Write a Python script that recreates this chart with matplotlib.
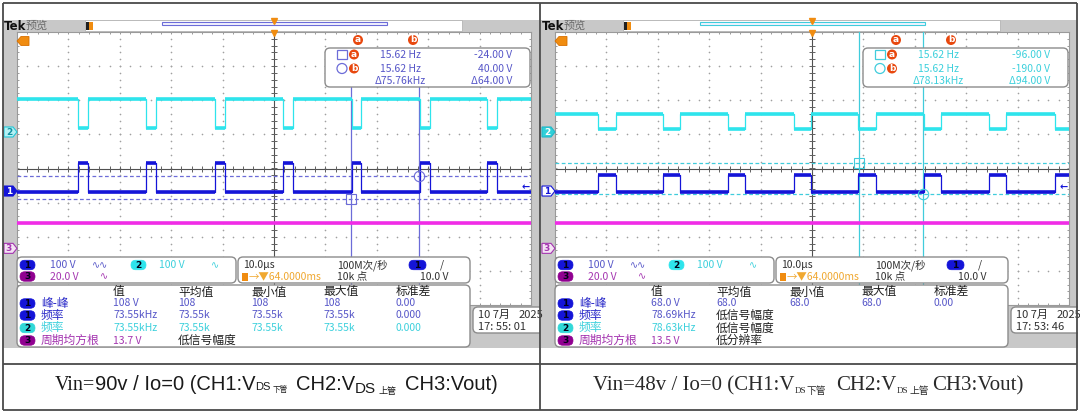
import numpy as np
import matplotlib
matplotlib.use("Agg")
import matplotlib.pyplot as plt
from matplotlib.patches import Rectangle, FancyBboxPatch, Polygon, Circle
from matplotlib.collections import LineCollection

plt.rcParams['font.family'] = ['Noto Sans CJK SC', 'DejaVu Sans']

W, H = 1080, 413

# ---------- values read off the two scope screens ----------
# horizontal: 10 us/div over 10 div, trigger in the centre -> -50..50 us
# vertical: 8 div, CH1/CH2 at 100 V/div, CH3 at 20 V/div
ch_scale = [100, 100, 20]
ch_ground_div = [-0.66, 1.07, -2.34]

# Vin = 90 V (left screen)
left_pulse_start = [-38.1, -24.9, -11.5, 1.7, 15.1, 28.4, 41.5]   # us
left_pulse_width = 1.9
left_ch1 = [-4, 82]      # low, high (V)
left_ch2 = [11, 96]      # low, high (V)
left_ch3 = 14.8
left_cursor_t = [15.05, 28.3]
left_cursor_div = [-0.88, -0.22]

# Vin = 48 V (right screen)
right_pulse_start = [-41.6, -29.0, -16.4, -3.5, 9.0, 21.7, 34.4, 47.2]
right_pulse_width = 3.4
right_ch1 = [-3, 46]
right_ch2 = [10, 54]
right_ch3 = 14.6
right_cursor_t = [9.07, 21.5]
right_cursor_div = [0.16, -0.75]

left_cursor_text = [["15.62 Hz", "-24.00 V"], ["15.62 Hz", "40.00 V"], ["Δ75.76kHz", "Δ64.00 V"]]
right_cursor_text = [["15.62 Hz", "-96.00 V"], ["15.62 Hz", "-190.0 V"], ["Δ78.13kHz", "Δ94.00 V"]]

ch_settings = ["100 V", "100 V", "20.0 V"]
timebase = ["10.0µs", "100M次/秒", "→▼64.0000ms", "10k 点", "10.0 V"]

meas_cols = ["值", "平均值", "最小值", "最大值", "标准差"]
meas_rows = [("1", "峰-峰"), ("1", "频率"), ("2", "频率"), ("3", "周期均方根")]
left_meas = [["108 V", "108", "108", "108", "0.00"],
             ["73.55kHz", "73.55k", "73.55k", "73.55k", "0.000"],
             ["73.55kHz", "73.55k", "73.55k", "73.55k", "0.000"],
             ["13.7 V", "低信号幅度", "", "", ""]]
right_meas = [["68.0 V", "68.0", "68.0", "68.0", "0.00"],
              ["78.69kHz", "低信号幅度", "", "", ""],
              ["78.63kHz", "低信号幅度", "", "", ""],
              ["13.5 V", "低分辨率", "", "", ""]]

left_date = ["10 7月", "2025", "17: 55: 01"]
right_date = ["10 7月", "2025", "17: 53: 46"]

GRAY = '#c8c8c8'
C1 = '#1414d8'
C2 = '#2ee4ec'
C3 = '#f02ce6'
C1TXT = '#5656c8'
C2TXT = '#3cd0dc'
C3TXT = '#a434b0'
ORANGE = '#f08c10'
RED = '#e8480e'

fig = plt.figure(figsize=(W / 100, H / 100), dpi=100)
fig.patch.set_facecolor('white')


def px_axes(z):
    a = fig.add_axes([0, 0, 1, 1], zorder=z)
    a.set_xlim(0, W)
    a.set_ylim(H, 0)
    a.axis('off')
    return a


bg = px_axes(0)
ov = px_axes(3)


def to_div(v, ch):
    return ch_ground_div[ch] + v / ch_scale[ch]


def pulse_train(starts, width, base, top):
    t, v = [-50], [base]
    for s in starts:
        e = s + width
        if e >= 50:
            t += [s, s, 50]
            v += [base, top, top]
            return t, v
        t += [s, s, e, e]
        v += [base, top, top, base]
    t.append(50)
    v.append(base)
    return t, v


def draw_trace(ax, t, v, color):
    ax.plot(t, v, color=color, lw=0.9, zorder=4)
    segs = [[(t[i], v[i]), (t[i + 1], v[i + 1])] for i in range(len(t) - 1) if v[i] == v[i + 1]]
    ax.add_collection(LineCollection(segs, colors=color, linewidths=2.6, zorder=4))


def scope(x0, x1, starts, width, ch1, ch2, ch3, cur_t, cur_div, cur_color, cur_top):
    y0, y1 = 32, 305
    ax = fig.add_axes([x0 / W, 1 - y1 / H, (x1 - x0) / W, (y1 - y0) / H], zorder=1)
    ax.set_xlim(-50, 50)
    ax.set_ylim(-4, 4)
    ax.set_xticks([])
    ax.set_yticks([])
    for s in ax.spines.values():
        s.set_color('#9a9a9a')
        s.set_linewidth(0.8)
    minor_x = np.arange(-50, 50.01, 2)
    minor_y = np.arange(-4, 4.01, 0.2)
    for gx in range(-40, 41, 10):
        if gx != 0:
            ax.scatter(np.full(minor_y.size, gx), minor_y, s=1.4, color='#a0a0a0', lw=0, zorder=1)
    for gy in range(-3, 4):
        if gy != 0:
            ax.scatter(minor_x, np.full(minor_x.size, gy), s=1.4, color='#a0a0a0', lw=0, zorder=1)
    ax.axhline(0, color='#505050', lw=0.8, zorder=2)
    ax.axvline(0, color='#505050', lw=0.8, zorder=2)
    ax.plot(minor_x, np.zeros(minor_x.size), ls='none', marker='|', ms=4, mew=0.7, color='#606060', zorder=2)
    ax.plot(np.zeros(minor_y.size), minor_y, ls='none', marker='_', ms=4, mew=0.7, color='#606060', zorder=2)
    for edge in (-4, 4):
        ax.plot(minor_x, np.full(minor_x.size, edge), ls='none', marker='|', ms=3, mew=0.6,
                color='#8a8a8a', clip_on=True, zorder=2)
    for edge in (-50, 50):
        ax.plot(np.full(minor_y.size, edge), minor_y, ls='none', marker='_', ms=3, mew=0.6,
                color='#8a8a8a', clip_on=True, zorder=2)

    # cursors
    for ct in cur_t:
        ax.plot([ct, ct], [-4, cur_top], color=cur_color, lw=0.9, zorder=3)
    for cd in cur_div:
        ax.axhline(cd, color=cur_color, lw=0.9, ls=(0, (3, 2)), zorder=3)
    ax.plot(cur_t[0], cur_div[0], marker='s', ms=6.5, mfc='none', mec=cur_color, mew=0.8, zorder=5)
    ax.plot(cur_t[1], cur_div[1], marker='o', ms=7.5, mfc='none', mec=cur_color, mew=0.8, zorder=5)

    # traces
    t, v = pulse_train(starts, width, to_div(ch2[1], 1), to_div(ch2[0], 1))
    draw_trace(ax, t, v, C2)
    t, v = pulse_train(starts, width, to_div(ch1[0], 0), to_div(ch1[1], 0))
    draw_trace(ax, t, v, C1)
    draw_trace(ax, [-50, 50], [to_div(ch3, 2)] * 2, C3)
    return ax


def div_to_py(d):
    return 168.5 - d * 34.125


def pill(x, y, label, fc, w=15, h=9.5):
    ov.add_patch(FancyBboxPatch((x, y - h / 2), w, h, boxstyle="round,pad=0,rounding_size=4.7",
                                fc=fc, ec=fc, lw=0.5, zorder=6))
    ov.text(x + w / 2, y + 0.3, label, ha='center', va='center', fontsize=6.5, color='#000018',
            fontweight='bold', family='DejaVu Sans', zorder=7)


def rbox(x0, y0, x1, y1, r=5):
    ov.add_patch(FancyBboxPatch((x0, y0), x1 - x0, y1 - y0, boxstyle="round,pad=0,rounding_size=%g" % r,
                                fc='white', ec='#8c8c8c', lw=1.0, zorder=5))


def ch_marker(x, y, label, fc, ec, tc):
    pts = [(x, y - 5), (x + 9, y - 5), (x + 13, y), (x + 9, y + 5), (x, y + 5)]
    ov.add_patch(Polygon(pts, closed=True, fc=fc, ec=ec, lw=0.8, zorder=6))
    ov.text(x + 5, y + 0.3, label, ha='center', va='center', fontsize=6.5, color=tc,
            family='DejaVu Sans', fontweight='bold', zorder=7)


def txt(x, y, s, color='#202020', size=7.5, ha='left', **kw):
    return ov.text(x, y, s, ha=ha, va='center', fontsize=size, color=color, zorder=7, **kw)


def panel(ox, starts, width, ch1, ch2, ch3, cur_t, cur_div, cur_color, cur_text, cur_txt_color,
          full_cursor, meas, date, m1_style, m2_style):
    # scope bezel
    bg.add_patch(Rectangle((ox + 3, 20), 537, 328, fc=GRAY, ec='none'))
    bg.add_patch(Rectangle((ox + 85, 20), 377, 11, fc='white', ec='#b4b4b4', lw=0.6))
    bg.add_patch(Rectangle((ox + 162, 22), 225, 3.2, fc='#f4f4ff', ec=cur_color, lw=0.8))
    ov.text(ox + 4, 26, "Tek", fontsize=8.5, fontweight='bold', family='DejaVu Sans', va='center', color='#101010')
    ov.text(ox + 26, 26, "预览", fontsize=8, va='center', color='#6a6a6a')
    ov.add_patch(Rectangle((ox + 86, 22), 7, 8, fc=ORANGE, ec='none', zorder=6))
    ov.add_patch(Rectangle((ox + 86, 22), 2.5, 8, fc='#202020', ec='none', zorder=6))
    ov.plot(ox + 274, 21, marker='v', ms=4, color=ORANGE, zorder=6)
    ov.plot(ox + 274, 33, marker='v', ms=5, color=ORANGE, zorder=6)
    ov.add_patch(Polygon([(ox + 17, 41), (ox + 21, 36.5), (ox + 29, 36.5), (ox + 29, 45.5), (ox + 21, 45.5)],
                         closed=True, fc=ORANGE, ec='#d87000', lw=0.6, zorder=6))

    top = 2.38 if not full_cursor else 4
    scope(ox + 17, ox + 531, starts, width, ch1, ch2, ch3, cur_t, cur_div, cur_color, top)

    # ground markers and trigger level arrow
    ch_marker(ox + 4, div_to_py(ch_ground_div[0]), "1", *m1_style)
    ch_marker(ox + 4, div_to_py(ch_ground_div[1]), "2", *m2_style)
    ch_marker(ox + 4, div_to_py(ch_ground_div[2]), "3", '#f4e4f4', C3TXT, C3TXT)
    txt(ox + 526, 187, "←", color=C1, size=7, ha='center', family='DejaVu Sans', fontweight='bold')

    # cursor readout
    rbox(ox + 325, 48, ox + 530, 87)
    for lab, x in zip("ab", [ox + 358, ox + 413]):
        ov.add_patch(Circle((x, 40), 5, fc=RED, ec='none', zorder=6))
        txt(x, 40, lab, color='white', size=6.5, ha='center', fontweight='bold', family='DejaVu Sans')
    ov.add_patch(Rectangle((ox + 337, 50), 10, 9, fc='none', ec=cur_color, lw=0.9, zorder=6))
    ov.add_patch(Circle((ox + 342, 68.5), 5, fc='none', ec=cur_color, lw=0.9, zorder=6))
    for lab, y in zip("ab", [54.5, 68.5]):
        ov.add_patch(Circle((ox + 354, y), 5, fc=RED, ec='none', zorder=6))
        txt(ox + 354, y, lab, color='white', size=6.5, ha='center', fontweight='bold', family='DejaVu Sans')
    for row, y in zip(cur_text, [54.5, 68.5, 81]):
        txt(ox + 400, y, row[0], color=cur_txt_color, size=7.5, ha='center')
        txt(ox + 512, y, row[1], color=cur_txt_color, size=7.5, ha='right')

    # vertical settings box
    rbox(ox + 17, 257, ox + 236, 283)
    pill(ox + 20, 265, "1", C1)
    txt(ox + 50, 265, ch_settings[0], C1TXT, 7.5)
    txt(ox + 92, 265, "∿∿", C1TXT, 7)
    pill(ox + 131, 265, "2", C2)
    txt(ox + 159, 265, ch_settings[1], C2TXT, 7.5)
    txt(ox + 211, 265, "∿", C2TXT, 7)
    pill(ox + 20, 276.5, "3", '#900090')
    txt(ox + 50, 276.5, ch_settings[2], C3TXT, 7.5)
    txt(ox + 100, 276.5, "∿", C3TXT, 7)

    # horizontal / trigger box
    rbox(ox + 238, 257, ox + 470, 283)
    txt(ox + 243, 265, timebase[0], '#303030', 7.5)
    txt(ox + 337, 265, timebase[1], '#303030', 7.5)
    pill(ox + 409, 265, "1", C1, w=17)
    txt(ox + 440, 265, "/", '#303030', 7.5)
    ov.add_patch(Rectangle((ox + 242, 272.5), 6, 8, fc=ORANGE, ec='none', zorder=6))
    txt(ox + 249, 276.5, timebase[2], '#f0a830', 7.5)
    txt(ox + 337, 276.5, timebase[3], '#303030', 7.5)
    txt(ox + 420, 276.5, timebase[4], '#303030', 7.5)

    # measurement table
    rbox(ox + 17, 285, ox + 470, 347)
    col_x = [113, 178, 251, 323, 396]
    for s, x in zip(meas_cols, col_x):
        txt(ox + x, 292, s, '#202020', 8.5)
    pill_fc = {"1": C1, "2": '#30d8d8', "3": '#900090'}
    lab_c = {"1": '#2a2ac8', "2": C2TXT, "3": C3TXT}
    val_c = {"1": C1TXT, "2": C2TXT, "3": C3TXT}
    for (ch, name), vals, y in zip(meas_rows, meas, [303.5, 315.5, 328, 340.5]):
        pill(ox + 20, y, ch, pill_fc[ch])
        txt(ox + 41, y, name, lab_c[ch], 8.5)
        for s, x in zip(vals, col_x):
            if s:
                c = '#202020' if not s[0].isascii() else val_c[ch]
                txt(ox + x, y, s, c, 8.5 if c == '#202020' else 7.5)

    # date box, cut by the screen edge
    rbox(ox + 473, 307, ox + 560, 333)
    clip = Rectangle((ox + 3, 0), 537, H, transform=ov.transData)
    ov.patches[-1].set_clip_path(clip)
    for s, x, y in [(date[0], 478, 314.5), (date[1], 519, 314.5), (date[2], 478, 326.5)]:
        t = txt(ox + x, y, s, '#303030', 8)
        t.set_clip_path(clip)


panel(0, left_pulse_start, left_pulse_width, left_ch1, left_ch2, left_ch3,
      left_cursor_t, left_cursor_div, '#6c6cd8', left_cursor_text, C1TXT, False,
      left_meas, left_date, (C1, C1, 'white'), ('#b4f0f4', '#22c8d8', '#1090a0'))
panel(538, right_pulse_start, right_pulse_width, right_ch1, right_ch2, right_ch3,
      right_cursor_t, right_cursor_div, '#40ccdc', right_cursor_text, C2TXT, True,
      right_meas, right_date, ('white', C1, C1), ('#30d0d8', '#20b8c8', 'white'))


# ---------- captions ----------
def chain(xc, y, pieces, color):
    r = fig.canvas.get_renderer()
    items = []
    for p in pieces:
        if isinstance(p, (int, float)):
            items.append((None, p))
            continue
        s, fam, size, dy = p
        t = ov.text(0, y + dy, s, family=fam, fontsize=size, va='baseline', ha='left', color=color, zorder=7)
        items.append((t, t.get_window_extent(r).width))
    x = xc - sum(w for _, w in items) / 2
    for t, w in items:
        if t is not None:
            t.set_x(x)
        x += w


SANS = ['Liberation Sans', 'DejaVu Sans']
SERIF = ['Liberation Serif', 'DejaVu Serif']
CJK = ['Noto Sans CJK SC']
chain(276, 390, [("Vin=", SERIF, 14.5, 0), ("90v / Io=0 (CH1:V", SANS, 14.5, 0), ("DS", SANS, 8, 0), 2,
                 ("下管", CJK, 5.5, 2), 8, ("CH2:V", SANS, 14.5, 0), ("DS", SANS, 11, 3), 3,
                 ("上管", CJK, 6.5, 4), 8, ("CH3:Vout)", SANS, 14.5, 0)], '#1a1a1a')
chain(808, 390, [("Vin=48v / Io=0 (CH1:V", SERIF, 15, 0), ("DS", SERIF, 6.5, 3), 1,
                 ("下管", CJK, 7, 4), 10, ("CH2:V", SERIF, 15, 0), ("DS", SERIF, 6.5, 3), 1,
                 ("上管", CJK, 7, 4), 3, ("CH3:Vout)", SERIF, 15, 0)], '#2a2a2a')

# ---------- outer frame ----------
for xs, ys in [([3, 1077], [3, 3]), ([3, 3], [3, 410]), ([540, 540], [3, 410]), ([1077, 1077], [3, 410]),
               ([3, 1077], [364, 364]), ([3, 1077], [409.5, 409.5])]:
    ov.plot(xs, ys, color='#4a4a4a', lw=1.3, zorder=8, solid_capstyle='butt')

fig.savefig('out.png', dpi=100)
